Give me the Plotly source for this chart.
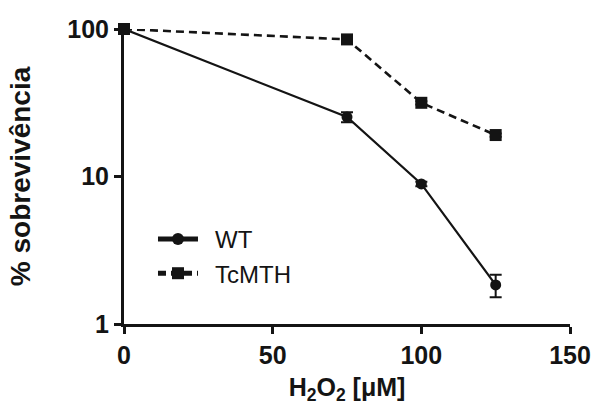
import plotly.graph_objects as go

# Data
dose = [0, 75, 100, 125]
wt_values = [100, 25.3, 8.9, 1.84]
wt_err = [0, 2.0, 0.3, 0.32]
tcmth_values = [100, 85, 31.6, 19.1]
tcmth_err = [0, 2.5, 0.8, 0.5]
series_names = ["\u2002WT", "\u2002TcMTH"]
x_ticks = [0, 50, 100, 150]
y_ticks = [1, 10, 100]
y_tick_labels = ["1", "10", "100"]

ink = "#141414"
font_family = "Liberation Sans, Arial, sans-serif"

fig = go.Figure()
fig.add_trace(go.Scatter(
    x=dose, y=wt_values, name=series_names[0], mode="lines+markers",
    line=dict(color=ink, width=2.2, dash="solid"),
    marker=dict(symbol="circle", size=11, color=ink),
    error_y=dict(type="data", array=wt_err, color=ink, thickness=2, width=6),
    cliponaxis=False,
))
fig.add_trace(go.Scatter(
    x=dose, y=tcmth_values, name=series_names[1], mode="lines+markers",
    line=dict(color=ink, width=2.6, dash="8px,5px"),
    marker=dict(symbol="square", size=12, color=ink),
    error_y=dict(type="data", array=tcmth_err, color=ink, thickness=2, width=6),
    cliponaxis=False,
))

fig.update_layout(
    width=598, height=407,
    margin=dict(l=124, r=28, t=29, b=83),
    paper_bgcolor="white", plot_bgcolor="white",
    font=dict(family=font_family, color=ink),
    showlegend=True,
    legend=dict(
        x=0.065, y=0.363, xanchor="left", yanchor="top",
        font=dict(size=24, family=font_family, color=ink),
        bgcolor="rgba(0,0,0,0)", itemsizing="constant",
        itemwidth=40, tracegroupgap=0,
    ),
    xaxis=dict(
        range=[0, 150], tickvals=x_ticks, automargin=False,
        showline=True, linecolor=ink, linewidth=3,
        ticks="outside", ticklen=7, tickwidth=2.5, tickcolor=ink,
        showgrid=False, zeroline=False,
        tickfont=dict(size=25, family=font_family, color=ink, weight="bold"),
        title=dict(text="<b>H<sub>2</sub>O<sub>2</sub> [μM]</b>",
                   font=dict(size=25, family=font_family, color=ink), standoff=11),
    ),
    yaxis=dict(
        type="log", range=[0, 2], tickvals=y_ticks, ticktext=y_tick_labels,
        automargin=False,
        showline=True, linecolor=ink, linewidth=3,
        ticks="outside", ticklen=7, tickwidth=2.5, tickcolor=ink,
        showgrid=False, zeroline=False,
        tickfont=dict(size=25, family=font_family, color=ink, weight="bold"),
        title=dict(text="<b>% sobrevivência</b>",
                   font=dict(size=28, family=font_family, color=ink), standoff=29),
    ),
)

fig.write_html(
    "out.html",
    config={"displayModeBar": False},
    post_script="document.body.style.margin='0';document.body.style.overflow='hidden';",
)
